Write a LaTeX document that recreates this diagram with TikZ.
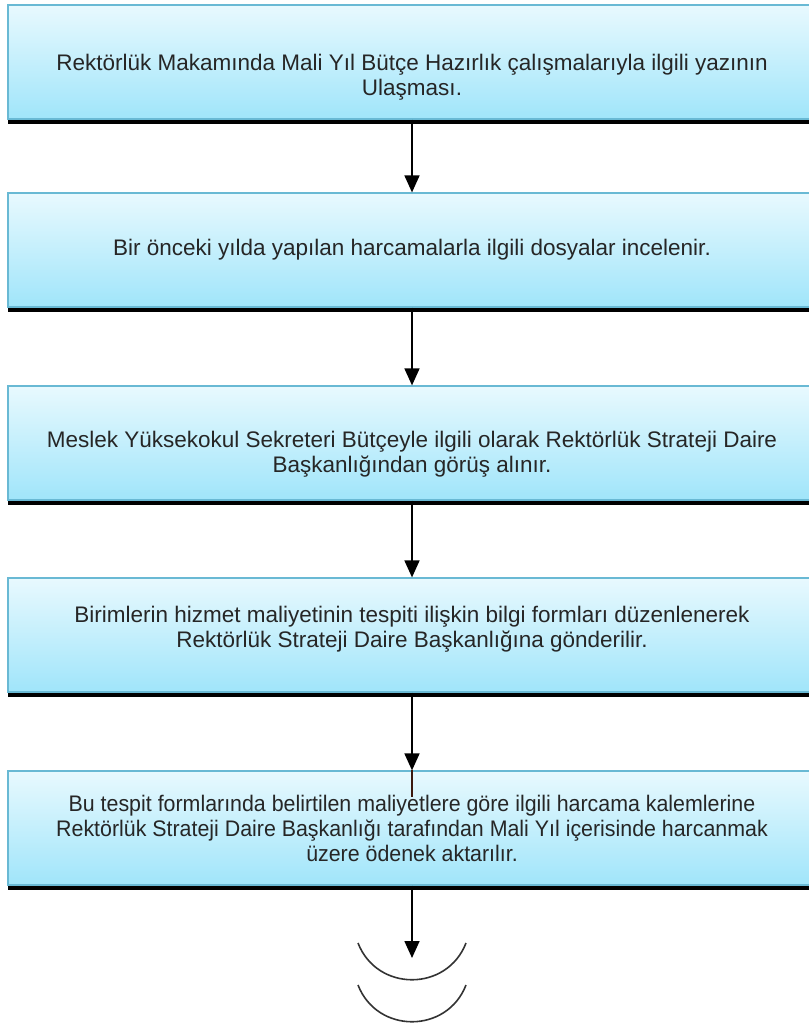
\documentclass[tikz,border=0pt]{standalone}
\usepackage{fontspec}
\setmainfont{Liberation Sans}
\usetikzlibrary{arrows.meta,shadows}
\definecolor{boxtop}{RGB}{232,249,254}
\definecolor{boxbottom}{RGB}{160,229,250}
\definecolor{boxline}{RGB}{105,185,212}
\definecolor{stub}{RGB}{60,25,15}

\begin{document}
\begin{tikzpicture}[x=1pt,y=-1pt,
  stepbox/.style={draw=boxline,line width=1.2pt,top color=boxtop,bottom color=boxbottom,
    minimum width=808pt,minimum height=114pt,align=center,
    font=\fontsize{22.5}{25}\selectfont,text=black!85,
    drop shadow={shadow xshift=0pt,shadow yshift=-5pt,fill=black,opacity=1}},
  flow/.style={line width=1.6pt,-{Triangle[width=15pt,length=17pt]}}]
\useasboundingbox (0,0) rectangle (808,1024);
\fill[white] (0,0) rectangle (808,1024);

\node[stepbox] (b1) at (412,62) {\rule{0pt}{46pt}Rektörlük Makamında Mali Yıl Bütçe Hazırlık çalışmalarıyla ilgili yazının\\Ulaşması.};
\node[stepbox] (b2) at (412,250) {Bir önceki yılda yapılan harcamalarla ilgili dosyalar incelenir.};
\node[stepbox] (b3) at (412,443) {\rule{0pt}{38pt}Meslek Yüksekokul Sekreteri Bütçeyle ilgili olarak Rektörlük Strateji Daire\\Başkanlığından görüş alınır.};
\node[stepbox] (b4) at (412,635) {Birimlerin hizmet maliyetinin tespiti ilişkin bilgi formları düzenlenerek\\Rektörlük Strateji Daire Başkanlığına gönderilir.\rule[-16pt]{0pt}{0pt}};
\node[stepbox,font=\fontsize{22.5}{25}\selectfont\addfontfeatures{FakeStretch=0.95}] (b5) at (412,828) {Bu tespit formlarında belirtilen maliyetlere göre ilgili harcama kalemlerine\\Rektörlük Strateji Daire Başkanlığı tarafından Mali Yıl içerisinde harcanmak\\üzere ödenek aktarılır.};
\coordinate (end) at (412,958);

\draw[flow] (b1) -- (b2);
\draw[flow] (b2) -- (b3);
\draw[flow] (b3) -- (b4);
\draw[flow] (b4) -- (b5);
\draw[line width=2.4pt,stub] (b5.north) -- ++(0,27);
\draw[flow] (b5) -- (end);

\foreach \dy in {0,42}{
  \draw[line width=1.6pt,black!80] (358,943+\dy) .. controls (377,992+\dy) and (447,992+\dy) .. (466,943+\dy);
};

\end{tikzpicture}
\end{document}
